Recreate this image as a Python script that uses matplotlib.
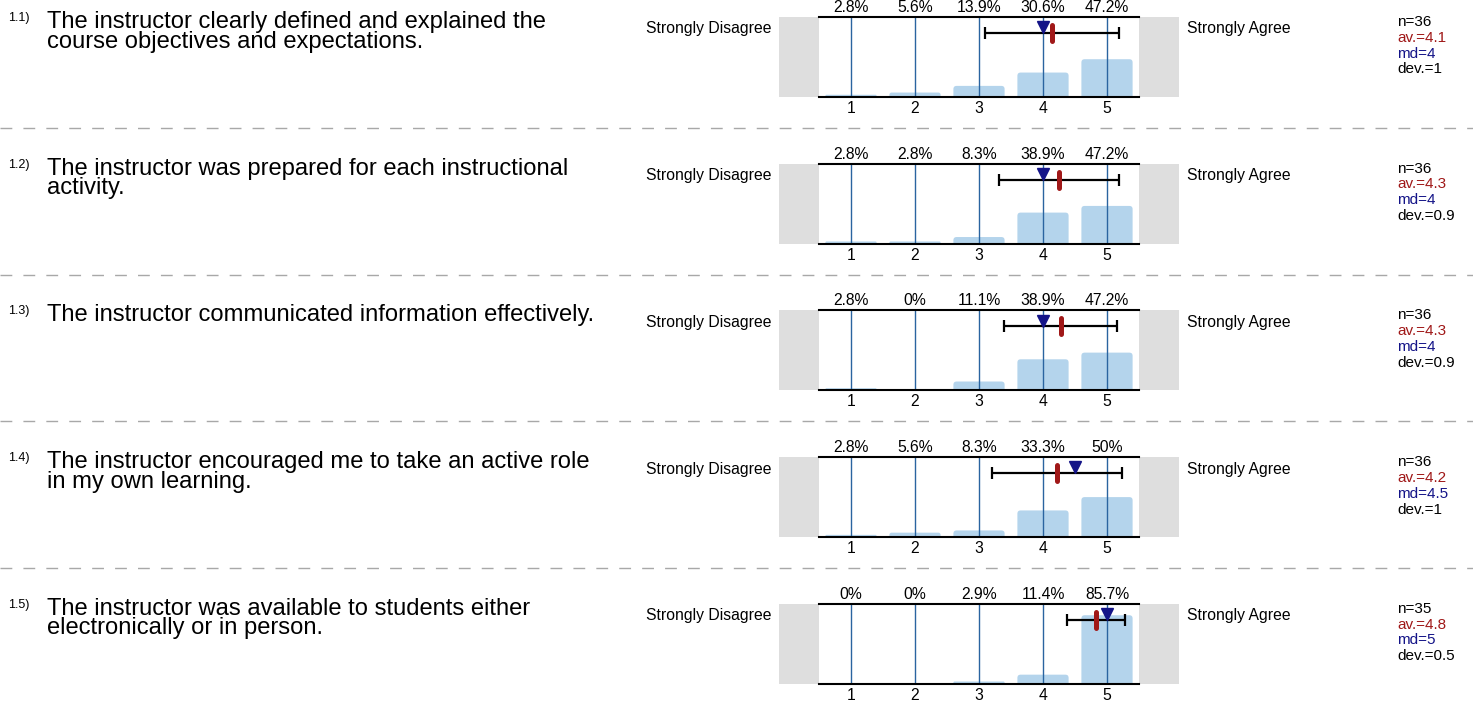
import matplotlib
matplotlib.use("Agg")
import matplotlib.pyplot as plt
import numpy as np
from matplotlib.patches import FancyBboxPatch
from matplotlib.lines import Line2D

plt.rcParams['font.family'] = ['Liberation Sans', 'DejaVu Sans']

# --- data ---
item_numbers = ["1.1)", "1.2)", "1.3)", "1.4)", "1.5)"]
questions = [
    "The instructor clearly defined and explained the\ncourse objectives and expectations.",
    "The instructor was prepared for each instructional\nactivity.",
    "The instructor communicated information effectively.",
    "The instructor encouraged me to take an active role\nin my own learning.",
    "The instructor was available to students either\nelectronically or in person.",
]
scale_points = [1, 2, 3, 4, 5]
# answer counts per scale point (n=36, 36, 36, 36, 35)
counts = [
    [1, 2, 5, 11, 17],
    [1, 1, 3, 14, 17],
    [1, 0, 4, 14, 17],
    [1, 2, 3, 12, 18],
    [0, 0, 1, 4, 30],
]
left_label = "Strongly Disagree"
right_label = "Strongly Agree"

W, H, DPI = 1473, 702, 100
ROW_PITCH = 146.7
PANEL_TOP = 17
PANEL_H = 80

BAR_COLOR = '#b4d4ec'
LINE_COLOR = '#2a64a0'
GRAY = '#dedede'
AV_COLOR = '#a01818'
MD_COLOR = '#141488'
SMALL = 11.3


def fmt(v):
    s = f"{v + 1e-9:.1f}"
    return s[:-2] if s.endswith(".0") else s


def fx(px):
    return px / W


def fy(py):
    return 1 - py / H


fig = plt.figure(figsize=(W / DPI, H / DPI), dpi=DPI)

for i, (num, q, cnt) in enumerate(zip(item_numbers, questions, counts)):
    cnt = np.array(cnt)
    n = cnt.sum()
    pct = 100.0 * cnt / n
    answers = np.repeat(scale_points, cnt)
    mean = answers.mean()
    median = np.median(answers)
    dev = answers.std(ddof=1)

    top = PANEL_TOP + ROW_PITCH * i

    # question text
    fig.text(fx(8), fy(top - 5), num, fontsize=9, va='top', ha='left')
    fig.text(fx(47), fy(top - 6), q, fontsize=17.1, va='top', ha='left',
             linespacing=0.86)

    # panel axes (includes the grey end boxes)
    ax = fig.add_axes([fx(779), fy(top + PANEL_H), fx(1179) - fx(779), PANEL_H / H])
    ax.set_xlim(-0.125, 6.125)
    ax.set_ylim(0, 100)
    ax.axis('off')
    ax.axvspan(-0.125, 0.5, color=GRAY, lw=0, zorder=0)
    ax.axvspan(5.5, 6.125, color=GRAY, lw=0, zorder=0)

    for x, p in zip(scale_points, pct):
        if p > 0:
            r = min(0.05, p / 80 / 2)
            ax.add_patch(FancyBboxPatch((x - 0.4, -5), 0.8, p + 5,
                                        boxstyle=f"round,pad=0,rounding_size={r}",
                                        mutation_aspect=80, fc=BAR_COLOR, ec='none',
                                        zorder=1))
        ax.plot([x, x], [0, 100], color=LINE_COLOR, lw=1.0, zorder=2)
        ax.annotate(fmt(p) + "%", (x, 100), xytext=(0, 2), textcoords='offset pixels',
                    ha='center', va='bottom', fontsize=SMALL)
        ax.annotate(str(x), (x, 0), xytext=(0, -4), textcoords='offset pixels',
                    ha='center', va='top', fontsize=SMALL)

    ax.plot([0.5, 5.5], [100, 100], color='black', lw=1.5, clip_on=False, zorder=3)
    ax.plot([0.5, 5.5], [0, 0], color='black', lw=1.5, clip_on=False, zorder=3)

    # spread, mean and median markers
    ax.errorbar([mean], [80], xerr=[dev], fmt='none', ecolor='black', elinewidth=1.6,
                capsize=4.5, capthick=1.6, zorder=4)
    ax.plot([mean, mean], [70, 90], color=AV_COLOR, lw=3.6, solid_capstyle='round',
            zorder=5)
    ax.plot([median], [87], marker='v', color=MD_COLOR, ms=8, ls='none', zorder=6)

    ax.annotate(left_label, (-0.125, 85), xytext=(-8, 0), textcoords='offset pixels',
                ha='right', va='center', fontsize=SMALL)
    ax.annotate(right_label, (6.125, 85), xytext=(8, 0), textcoords='offset pixels',
                ha='left', va='center', fontsize=SMALL)

    # summary stats
    stats = [(f"n={n}", 'black'), (f"av.={fmt(mean)}", AV_COLOR),
             (f"md={median:g}", MD_COLOR), (f"dev.={fmt(dev)}", 'black')]
    for k, (s, c) in enumerate(stats):
        fig.text(fx(1397), fy(top + 5 + 15.8 * k), s, color=c, fontsize=11,
                 ha='left', va='center')

    # dashed separator
    if i < len(questions) - 1:
        sep = 128 + ROW_PITCH * i
        fig.add_artist(Line2D([0, 1], [fy(sep), fy(sep)], transform=fig.transFigure,
                              color='#a8a8a8', lw=1, dashes=(8.5, 8)))

fig.savefig("out.png", dpi=DPI)
